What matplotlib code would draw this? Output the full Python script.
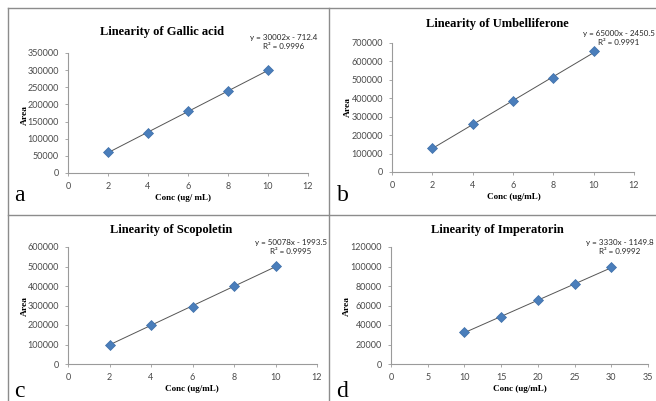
import numpy as np
import matplotlib
matplotlib.use("Agg")
import matplotlib.pyplot as plt
from matplotlib.lines import Line2D

# datos
titulos = ["Linearity of Gallic acid", "Linearity of Umbelliferone",
           "Linearity of Scopoletin", "Linearity of Imperatorin"]
etiquetas_x = ["Conc (ug/ mL)", "Conc (ug/mL)", "Conc (ug/mL)", "Conc (ug/mL)"]
letras = ["a", "b", "c", "d"]

conc_a = [2, 4, 6, 8, 10]
area_a = [60000, 118000, 181000, 238000, 301000]
conc_b = [2, 4, 6, 8, 10]
area_b = [130000, 259000, 383000, 512000, 654000]
conc_c = [2, 4, 6, 8, 10]
area_c = [100000, 200000, 292000, 401000, 502000]
conc_d = [10, 15, 20, 25, 30]
area_d = [33000, 48000, 66000, 82000, 100000]

pendientes = [30002, 65000, 50078, 3330]
intercepto = [-712.4, -2450.5, -1993.5, -1149.8]
r2 = [0.9996, 0.9991, 0.9995, 0.9992]

xmax = [12, 12, 12, 35]
xpaso = [2, 2, 2, 5]
ymax = [350000, 700000, 600000, 120000]
ypaso = [50000, 100000, 100000, 20000]

W, H = 656, 401

def caja(x0, y0, x1, y1):
    # pixeles -> fraccion de figura
    return [x0 / W, 1 - y1 / H, (x1 - x0) / W, (y1 - y0) / H]

fig = plt.figure(figsize=(W / 100, H / 100), dpi=100)
fig.patch.set_facecolor("white")

# bordes del panel
gris = "#8c8c8c"
for ln in [
    Line2D([8 / W, 8 / W], [0, 1 - 8 / H]),
    Line2D([8 / W, 1], [1 - 8 / H, 1 - 8 / H]),
    Line2D([329 / W, 329 / W], [0, 1 - 8 / H]),
    Line2D([8 / W, 1], [1 - 215 / H, 1 - 215 / H]),
]:
    ln.set_color(gris)
    ln.set_linewidth(1.0)
    fig.add_artist(ln)

ejes_px = [(68, 53, 308, 173), (392, 43, 634, 172),
           (68, 247, 317, 364), (391, 247, 648, 364)]
titulo_px = [(162, 32), (497, 24), (171, 230), (497, 230)]
ecuacion_px = [(284, 42), (619, 38), (291, 247), (620, 247)]
ylabel_px = [(25, 115), (348, 107), (25, 306), (347, 306)]
xlabel_px = [(183, 198), (514, 197), (192, 389), (520, 389)]
letra_px = [(19, 201), (343, 201), (19, 397), (342, 397)]

series = [(conc_a, area_a), (conc_b, area_b), (conc_c, area_c), (conc_d, area_d)]

for i in range(4):
    x, y = series[i]
    ax = fig.add_axes(caja(*ejes_px[i]))
    xs = np.array([min(x), max(x)])
    ax.plot(xs, pendientes[i] * xs + intercepto[i], color="#555555", lw=0.7, zorder=2)
    ax.plot(x, y, "D", color="#4a7ebb", mec="#3d6ea8", mew=0.5, ms=5.5, zorder=3)
    ax.set_xlim(0, xmax[i])
    ax.set_ylim(0, ymax[i])
    ax.set_xticks(np.arange(0, xmax[i] + 1, xpaso[i]))
    ax.set_yticks(np.arange(0, ymax[i] + 1, ypaso[i]))
    for s in ["top", "right"]:
        ax.spines[s].set_visible(False)
    for s in ["left", "bottom"]:
        ax.spines[s].set_color("#9a9a9a")
        ax.spines[s].set_linewidth(0.8)
    ax.tick_params(axis="both", length=2.5, width=0.6, color="#9a9a9a",
                   labelsize=6.5, labelcolor="#4a4a4a", pad=4)
    for t in ax.get_xticklabels() + ax.get_yticklabels():
        t.set_family("Lato")
    ax.patch.set_alpha(0)

    fig.text(titulo_px[i][0] / W, 1 - titulo_px[i][1] / H, titulos[i],
             family="Liberation Serif", weight="bold", fontsize=9,
             ha="center", va="center")
    texto_ec = "y = %gx - %g\nR² = %.4f" % (pendientes[i], -intercepto[i], r2[i])
    fig.text(ecuacion_px[i][0] / W, 1 - ecuacion_px[i][1] / H, texto_ec,
             family="Lato", fontsize=5.8, color="#262626",
             ha="center", va="center", multialignment="center", linespacing=1.45)
    fig.text(ylabel_px[i][0] / W, 1 - ylabel_px[i][1] / H, "Area",
             family="Liberation Serif", weight="bold", fontsize=6.8,
             rotation=90, ha="center", va="center")
    fig.text(xlabel_px[i][0] / W, 1 - xlabel_px[i][1] / H, etiquetas_x[i],
             family="Liberation Serif", weight="bold", fontsize=6.5,
             ha="center", va="center")
    fig.text(letra_px[i][0] / W, 1 - letra_px[i][1] / H, letras[i],
             family="Liberation Serif", fontsize=17,
             ha="center", va="baseline")

fig.savefig("out.png", dpi=100, facecolor="white")
